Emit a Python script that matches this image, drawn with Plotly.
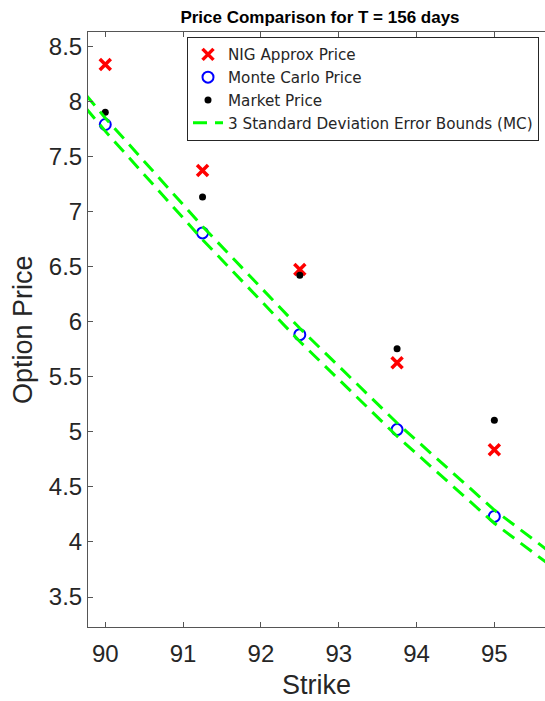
import plotly.graph_objects as go

# Strikes at which the option was priced
strikes = [90, 91.25, 92.5, 93.75, 95]

# Price estimates per strike
nig_price = [8.335, 7.372, 6.473, 5.628, 4.838]
mc_price = [7.790, 6.806, 5.882, 5.020, 4.232]
market_price = [7.901, 7.133, 6.421, 5.755, 5.104]

# Monte Carlo 3-sigma error band, evaluated on a slightly wider strike grid
band_strikes = [89.75, 90, 91.25, 92.5, 93.75, 95, 95.75]
band_upper = [8.06, 7.85, 6.865, 5.94, 5.08, 4.29, 3.89]
band_lower = [7.94, 7.73, 6.745, 5.82, 4.96, 4.17, 3.77]

x_ticks = [90, 91, 92, 93, 94, 95]
y_ticks = [3.5, 4, 4.5, 5, 5.5, 6, 6.5, 7, 7.5, 8, 8.5]
y_tick_text = ["3.5", "4", "4.5", "5", "5.5", "6", "6.5", "7", "7.5", "8", "8.5"]

FONT = "Liberation Sans, Arial, Helvetica, sans-serif"
LEGEND_FONT = "DejaVu Sans, Liberation Sans, sans-serif"
INK = "#262626"
GREEN = "#00ff00"

fig = go.Figure()

fig.add_trace(go.Scatter(
    x=strikes, y=nig_price, mode="markers", name="NIG Approx Price",
    marker=dict(symbol="x-thin", size=11, color="#ff0000",
                line=dict(color="#ff0000", width=3.5)),
))
fig.add_trace(go.Scatter(
    x=strikes, y=mc_price, mode="markers", name="Monte Carlo Price",
    marker=dict(symbol="circle-open", size=11, color="#0000ff",
                line=dict(color="#0000ff", width=2)),
))
fig.add_trace(go.Scatter(
    x=strikes, y=market_price, mode="markers", name="Market Price",
    marker=dict(symbol="circle", size=7, color="#000000"),
))
fig.add_trace(go.Scatter(
    x=band_strikes, y=band_upper, mode="lines",
    name="3 Standard Deviation Error Bounds (MC)", legendgroup="band",
    line=dict(color=GREEN, width=3, dash="14px,8px"),
))
fig.add_trace(go.Scatter(
    x=band_strikes, y=band_lower, mode="lines", showlegend=False,
    name="3 Standard Deviation Error Bounds (MC)", legendgroup="band",
    line=dict(color=GREEN, width=3, dash="14px,8px"),
))

fig.update_layout(
    width=545, height=701,
    margin=dict(l=88, r=0, t=32, b=74),
    paper_bgcolor="white", plot_bgcolor="white",
    font=dict(family=FONT, color=INK),
    title=dict(
        text="<b>Price Comparison for T = 156 days</b>",
        font=dict(size=17, family=FONT, color="#000000"),
        x=(320 - 88) / 457, xref="paper", xanchor="center",
        y=1 - 17 / 701, yref="container", yanchor="middle",
    ),
    legend=dict(
        x=(187 - 88) / 457, y=(627 - 37) / 595,
        xanchor="left", yanchor="top",
        bgcolor="white", bordercolor=INK, borderwidth=1,
        font=dict(size=15.2, family=LEGEND_FONT, color=INK),
        tracegroupgap=0,
    ),
    showlegend=True,
)

fig.update_xaxes(
    range=[89.778, 95.651], tickvals=x_ticks,
    ticks="inside", ticklen=5, tickcolor="#555555",
    showline=True, linecolor="#555555", linewidth=1, mirror="ticks",
    showgrid=False, zeroline=False, ticklabelstandoff=5,
    tickfont=dict(size=24, family=FONT, color=INK),
)
fig.update_yaxes(
    range=[3.228, 8.63], tickvals=y_ticks, ticktext=y_tick_text,
    ticks="inside", ticklen=5, tickcolor="#555555",
    showline=True, linecolor="#555555", linewidth=1, mirror=False,
    showgrid=False, zeroline=False,
    tickfont=dict(size=24, family=FONT, color=INK),
)

# Axis labels
fig.add_annotation(
    text="Strike", xref="paper", yref="paper",
    x=0.5, y=-58 / 595, xanchor="center", yanchor="middle",
    showarrow=False, font=dict(size=27, family=FONT, color=INK),
)
fig.add_annotation(
    text="Option Price", xref="paper", yref="paper",
    x=-(88 - 22.5) / 457, y=0.5, xanchor="center", yanchor="middle",
    textangle=-90, showarrow=False,
    font=dict(size=27, family=FONT, color=INK),
)

fig.write_html("out.html")
